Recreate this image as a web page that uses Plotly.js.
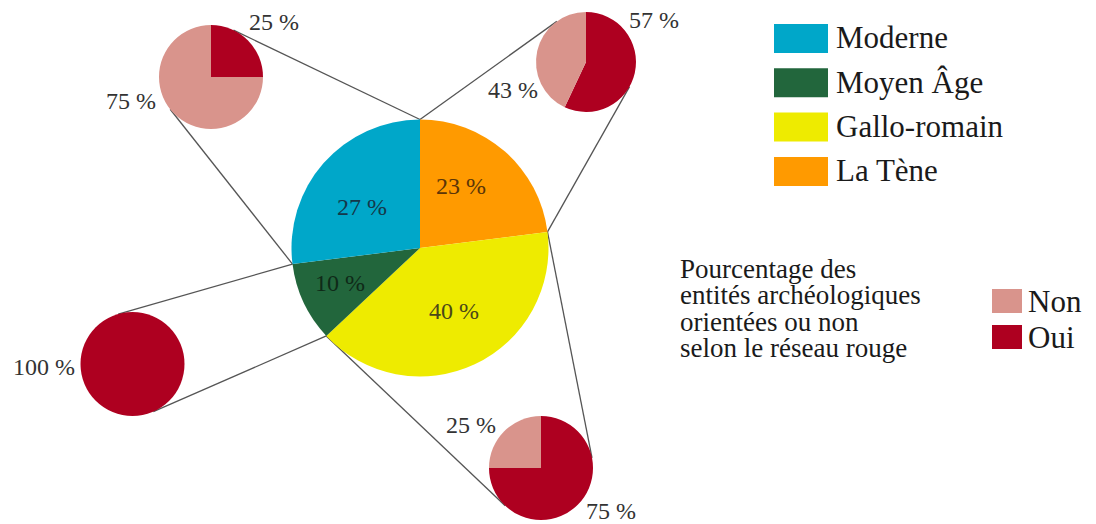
<!DOCTYPE html>
<html><head><meta charset="utf-8">
<script src="https://cdn.plot.ly/plotly-3.0.1.min.js"></script>
<style>html,body{margin:0;padding:0;background:#fff}#chart{width:1096px;height:524px}</style>
</head><body><div id="chart"></div>
<script>
// ---- data ----
const periods = ['Moderne', 'Moyen Âge', 'Gallo-romain', 'La Tène'];
const periodShares = [27, 10, 40, 23];
const ouiShares = [25, 100, 75, 57];
const nonShares = [75, 0, 25, 43];
const orientLabels = ['Non', 'Oui'];
const legendTitleLines = ['Pourcentage des', 'entités archéologiques', 'orientées ou non', 'selon le réseau rouge'];

// ---- styles / layout ----
const periodColors = ['#00a7c9', '#22663c', '#eeeb00', '#ff9a00'];
const periodTextColors = ['#15384a', '#0f2a18', '#4a4818', '#5a3508'];
const orientColors = {Oui: '#ae0020', Non: '#d9948c'};
const W = 1096, H = 524;
const FONT = "'Liberation Serif', 'Times New Roman', 'DejaVu Serif', serif";
const main = {cx: 420, cy: 248, r: 128.5};
const minis = [
  {cx: 211, cy: 77, r: 52},
  {cx: 132.5, cy: 364, r: 52},
  {cx: 541, cy: 468, r: 52},
  {cx: 586, cy: 62, r: 50}
];
// label positions (px): central pie labels, and small pie [oui label, non label]
const mainLabelPos = [[362, 207], [340, 283], [454, 311], [461, 186]];
const miniLabelPos = [
  [[274, 22], [131, 101]],
  [[44, 367], null],
  [[611, 511], [471, 425]],
  [[654, 20], [513, 90]]
];

const px = x => x / W;
const py = y => 1 - y / H;
function domainOf(c) {
  return {x: [px(c.cx - c.r), px(c.cx + c.r)], y: [py(c.cy + c.r), py(c.cy - c.r)]};
}

const traces = [];
// the periods run counterclockwise from 12 o'clock: draw them clockwise in reverse order
traces.push({
  type: 'pie', labels: periods.slice().reverse(), values: periodShares.slice().reverse(), sort: false,
  direction: 'clockwise', rotation: 0,
  marker: {colors: periodColors.slice().reverse(), line: {width: 0}},
  textinfo: 'none', hoverinfo: 'label+percent', showlegend: false,
  domain: domainOf(main)
});
periods.forEach((p, i) => {
  traces.push({
    type: 'pie', labels: ['Oui', 'Non'], values: [ouiShares[i], nonShares[i]], sort: false,
    direction: 'clockwise', rotation: 0,
    marker: {colors: [orientColors.Oui, orientColors.Non], line: {width: 0}},
    textinfo: 'none', hoverinfo: 'label+percent', showlegend: false,
    domain: domainOf(minis[i])
  });
});

// connectors
const total = periodShares.reduce((a, b) => a + b, 0);
function ptAt(frac) {
  const a = 2 * Math.PI * frac;
  return [main.cx - main.r * Math.sin(a), main.cy - main.r * Math.cos(a)];
}
function tangents(P, c) {
  const dx = P[0] - c.cx, dy = P[1] - c.cy;
  const d = Math.hypot(dx, dy), phi = Math.atan2(dy, dx), a = Math.acos(c.r / d);
  return [phi + a, phi - a].map(t => [c.cx + c.r * Math.cos(t), c.cy + c.r * Math.sin(t)]);
}
const dist = (A, B) => Math.hypot(A[0] - B[0], A[1] - B[1]);
const shapes = [];
const annotations = [];
function ann(x, y, text, size, color, xanchor) {
  annotations.push({xref: 'paper', yref: 'paper', showarrow: false,
    xanchor: xanchor || 'center', yanchor: 'middle', x: px(x), y: py(y),
    text: text, font: {family: FONT, size: size, color: color}});
}
let cum = 0;
periods.forEach((p, i) => {
  const s = cum / total, e = (cum + periodShares[i]) / total;
  cum += periodShares[i];
  const P1 = ptAt(s), P2 = ptAt(e);
  const t1 = tangents(P1, minis[i]).sort((a, b) => dist(b, P2) - dist(a, P2))[0];
  const t2 = tangents(P2, minis[i]).sort((a, b) => dist(b, P1) - dist(a, P1))[0];
  [[P1, t1], [P2, t2]].forEach(([A, B]) => shapes.push({
    type: 'line', xref: 'paper', yref: 'paper', layer: 'below',
    x0: px(A[0]), y0: py(A[1]), x1: px(B[0]), y1: py(B[1]),
    line: {color: '#555555', width: 1.3}
  }));
  // central label
  ann(mainLabelPos[i][0], mainLabelPos[i][1], periodShares[i] + ' %', 24, periodTextColors[i]);
  // small pie labels
  const vals = [ouiShares[i], nonShares[i]];
  miniLabelPos[i].forEach((pos, k) => {
    if (!pos || vals[k] === 0) return;
    ann(pos[0], pos[1], vals[k] + ' %', 24, '#333333');
  });
  // period legend
  const y0 = 24 + i * 44.3;
  shapes.push({type: 'rect', xref: 'paper', yref: 'paper', x0: px(774), x1: px(828), y0: py(y0), y1: py(y0 + 29),
    fillcolor: periodColors[i], line: {width: 0}});
  ann(834, y0 + 14, p, 31, '#1a1a1a', 'left');
});

// orientation legend
legendTitleLines.forEach((t, k) => {
  ann(678, 269 + k * 26.3, t, 27, '#1a1a1a', 'left');
});
orientLabels.forEach((l, k) => {
  const y0 = 289 + k * 36;
  shapes.push({type: 'rect', xref: 'paper', yref: 'paper', x0: px(992), x1: px(1022), y0: py(y0), y1: py(y0 + 24),
    fillcolor: orientColors[l], line: {width: 0}});
  ann(1026, y0 + 12, l, 31, '#1a1a1a', 'left');
});

Plotly.newPlot('chart', traces, {
  width: W, height: H, margin: {l: 0, r: 0, t: 0, b: 0},
  paper_bgcolor: '#ffffff', showlegend: false,
  shapes: shapes, annotations: annotations
}, {staticPlot: true});
</script></body></html>
